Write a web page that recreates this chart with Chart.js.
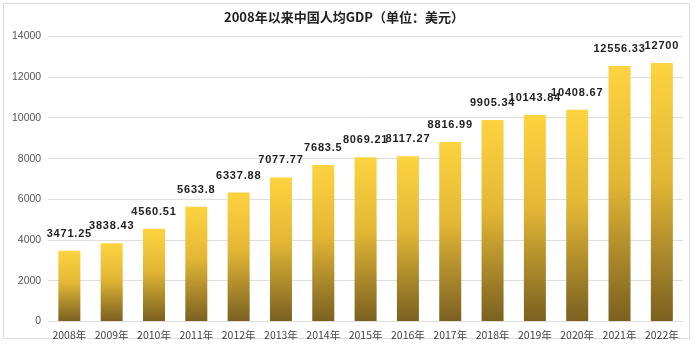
<!DOCTYPE html>
<html>
<head>
<meta charset="utf-8">
<script src="https://cdn.jsdelivr.net/npm/chart.js@4.4.0/dist/chart.umd.min.js"></script>
<style>
    html, body { margin: 0; padding: 0; background: #fff; }
    #wrap { position: relative; width: 696px; height: 346px; }
    #frame { position: absolute; left: 3px; top: 3px; width: 687px; height: 336px; border: 1px solid #dcdcdc; box-sizing: border-box; }
    canvas { position: absolute; left: 0; top: 0; }
</style>
</head>
<body>
<div id="wrap">
    <div id="frame"></div>
    <canvas id="gdpChart" width="696" height="346"></canvas>
</div>
<script>
const years = ['2008年', '2009年', '2010年', '2011年', '2012年', '2013年', '2014年', '2015年',
    '2016年', '2017年', '2018年', '2019年', '2020年', '2021年', '2022年'];
const gdpPerCapita = [3471.25, 3838.43, 4560.51, 5633.8, 6337.88, 7077.77, 7683.5, 8069.21,
    8117.27, 8816.99, 9905.34, 10143.84, 10408.67, 12556.33, 12700];
const yTicks = [0, 2000, 4000, 6000, 8000, 10000, 12000, 14000];

// Degradado por barra: amarillo arriba, marrón abajo
function barGradient(context) {
    const chart = context.chart;
    const area = chart.chartArea;
    if (!area || context.type !== 'data') return '#f5c842';
    const yScale = chart.scales.y;
    const top = yScale.getPixelForValue(context.raw);
    const bottom = yScale.getPixelForValue(0);
    const g = chart.ctx.createLinearGradient(0, top, 0, bottom);
    g.addColorStop(0, '#fed340');
    g.addColorStop(0.45, '#e3b735');
    g.addColorStop(1, '#7a6021');
    return g;
}

// Etiquetas de valor sobre cada barra
const valueLabels = {
    id: 'valueLabels',
    afterDatasetsDraw(chart) {
        const ctx = chart.ctx;
        const meta = chart.getDatasetMeta(0);
        ctx.save();
        ctx.font = 'bold 11px "Liberation Sans", Arial, sans-serif';
        ctx.fillStyle = '#222';
        ctx.textAlign = 'center';
        ctx.textBaseline = 'middle';
        if ('letterSpacing' in ctx) ctx.letterSpacing = '0.8px';
        meta.data.forEach((bar, i) => {
            ctx.fillText(String(gdpPerCapita[i]), bar.x, bar.y - 17);
        });
        ctx.restore();
    }
};

const chart = new Chart(document.getElementById('gdpChart'), {
    type: 'bar',
    data: {
        labels: years,
        datasets: [{
            data: gdpPerCapita,
            backgroundColor: barGradient,
            borderWidth: 0,
            categoryPercentage: 1,
            barPercentage: 0.52
        }]
    },
    options: {
        responsive: false,
        animation: false,
        layout: { padding: { left: 5, right: 13, top: 5, bottom: 6 } },
        plugins: {
            legend: { display: false },
            tooltip: { enabled: false },
            title: {
                display: true,
                text: '2008年以来中国人均GDP（单位：美元）',
                color: '#222',
                font: { size: 13, weight: 'bold', family: '"Noto Sans CJK SC", sans-serif' },
                padding: { top: 4, bottom: 12 }
            }
        },
        scales: {
            x: {
                grid: { display: false },
                border: { display: false },
                ticks: {
                    color: '#444',
                    font: { size: 10.5, family: '"Noto Sans CJK SC", "Liberation Sans", sans-serif' },
                    maxRotation: 0,
                    autoSkip: false,
                    padding: -1
                }
            },
            y: {
                min: 0,
                max: 14000,
                afterBuildTicks: (axis) => { axis.ticks = yTicks.map(v => ({ value: v })); },
                grid: { color: '#dedede', drawTicks: false, lineWidth: 1 },
                border: { display: false },
                ticks: {
                    color: '#555',
                    font: { size: 10.5, family: '"Liberation Sans", Arial, sans-serif' },
                    padding: 7,
                    callback: (v) => String(v)
                }
            }
        }
    },
    plugins: [valueLabels]
});
</script>
</body>
</html>
